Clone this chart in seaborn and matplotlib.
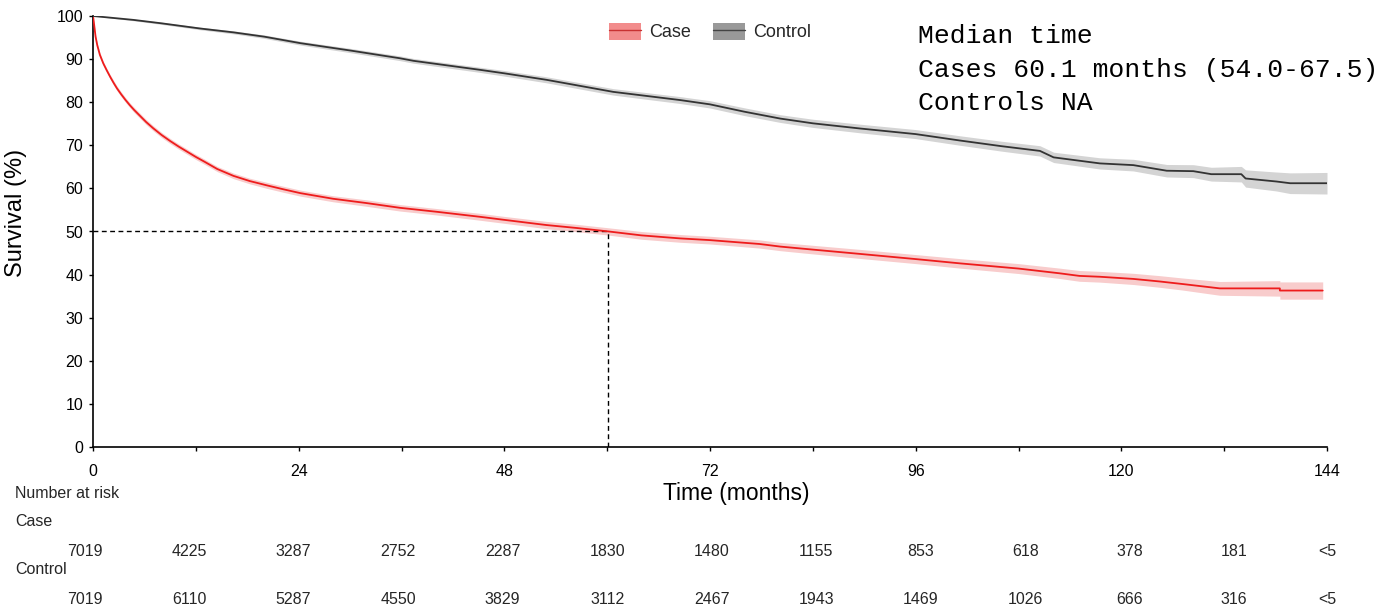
"""
Kaplan-Meier style survival curves for cases vs controls, with number at risk table.
"""

import matplotlib.pyplot as plt
import matplotlib.transforms as mtransforms
from matplotlib.patches import Patch
from matplotlib.lines import Line2D
import seaborn as sns
import pandas as pd
import numpy as np

# Case curve (months, survival %, half width of 95% CI)
case_time = [0, 0.1, 0.3, 0.5, 0.8, 1.2, 1.6, 2.0, 2.4, 2.8, 3.3, 3.8, 4.3, 4.8, 5.5,
             6.2, 7.0, 8.0, 9.0, 10.0, 11.0, 12.0, 13.0, 14.5, 16.4, 18.3, 20.3, 22.2, 24.2,
             28, 31.9, 35.8, 40, 45.2, 48, 52.9, 56.5, 60.2, 64, 68.5, 72, 77.8, 80.2,
             84, 89.5, 96, 101.2, 108, 112.8, 115.1, 117.5, 121.4, 124.5, 127.2, 131.5,
             138.5, 138.5, 143.5]
case_surv = [100, 98.5, 95.2, 93.2, 91.0, 89.0, 87.4, 85.9, 84.5, 83.2, 81.8, 80.5, 79.3, 78.2, 76.8,
             75.4, 74.0, 72.4, 71.0, 69.7, 68.5, 67.3, 66.2, 64.5, 62.9, 61.7, 60.7, 59.8, 58.9,
             57.6, 56.6, 55.5, 54.6, 53.4, 52.7, 51.5, 50.8, 50.0, 49.1, 48.4, 48.0, 47.1, 46.5,
             45.8, 44.8, 43.6, 42.6, 41.4, 40.3, 39.7, 39.5, 39.0, 38.4, 37.8, 36.8,
             36.8, 36.3, 36.3]
case_ci = [0, 0.3, 0.4, 0.45, 0.5, 0.5, 0.5, 0.5, 0.55, 0.55, 0.55, 0.55, 0.55, 0.6, 0.6,
           0.6, 0.6, 0.6, 0.6, 0.6, 0.6, 0.6, 0.6, 0.6, 0.65, 0.65, 0.7, 0.7, 0.7,
           0.7, 0.75, 0.75, 0.75, 0.8, 0.8, 0.85, 0.85, 0.85, 0.9, 0.9, 0.9, 0.95, 0.95,
           1.0, 1.05, 1.05, 1.1, 1.15, 1.2, 1.25, 1.25, 1.3, 1.35, 1.4, 1.6,
           1.8, 2.0, 2.0]

# Control curve
control_time = [0, 4.7, 8, 12.5, 16.4, 20, 24.2, 30, 35.8, 37.4, 45.2, 48, 52.9, 60.7,
                68.5, 72, 76, 80.2, 84, 89.5, 96, 101.2, 106, 110.5, 112.1, 117.5,
                121.4, 125.3, 128.4, 130.5, 134, 134.5, 138.1, 139.7, 144]
control_surv = [100, 99.1, 98.3, 97.1, 96.2, 95.2, 93.7, 92.0, 90.2, 89.6, 87.5, 86.7, 85.2, 82.4,
                80.5, 79.5, 77.8, 76.2, 75.1, 73.9, 72.6, 71.1, 69.8, 68.7, 67.2, 65.8,
                65.4, 64.1, 64.0, 63.3, 63.3, 62.3, 61.6, 61.2, 61.2]
control_ci = [0, 0.2, 0.25, 0.3, 0.35, 0.4, 0.45, 0.5, 0.55, 0.55, 0.6, 0.65, 0.7, 0.75,
              0.8, 0.85, 0.9, 0.9, 0.95, 1.0, 1.05, 1.1, 1.15, 1.2, 1.2, 1.3,
              1.35, 1.45, 1.5, 1.6, 1.8, 2.0, 2.2, 2.4, 2.5]

median_case = 60.1

# Number at risk table
risk_times = [0, 12, 24, 36, 48, 60, 72, 84, 96, 108, 120, 132, 144]
risk_case = ['7019', '4225', '3287', '2752', '2287', '1830', '1480', '1155', '853',
             '618', '378', '181', '<5']
risk_control = ['7019', '6110', '5287', '4550', '3829', '3112', '2467', '1943', '1469',
                '1026', '666', '316', '<5']

median_lines = ['Median time', 'Cases 60.1 months (54.0-67.5)', 'Controls NA']


def main():
    sns.set_theme(style='ticks')
    plt.rcParams['font.family'] = ['Liberation Sans', 'DejaVu Sans']

    W, H = 1397, 613
    fig = plt.figure(figsize=(W / 100, H / 100), dpi=100)
    ax = fig.add_axes([93 / W, 1 - 447 / H, 1234 / W, 431 / H])

    df = pd.concat([
        pd.DataFrame({'time': case_time, 'surv': case_surv, 'group': 'Case'}),
        pd.DataFrame({'time': control_time, 'surv': control_surv, 'group': 'Control'}),
    ], ignore_index=True)

    # confidence bands first so lines sit on top
    ax.fill_between(control_time, np.array(control_surv) - np.array(control_ci),
                    np.array(control_surv) + np.array(control_ci),
                    color='#d4d4d4', lw=0, zorder=1)
    ax.fill_between(case_time, np.array(case_surv) - np.array(case_ci),
                    np.array(case_surv) + np.array(case_ci),
                    color='#f8cccc', lw=0, zorder=1)

    sns.lineplot(data=df, x='time', y='surv', hue='group', sort=False, estimator=None,
                 palette={'Case': '#ee1c1c', 'Control': '#333333'},
                 linewidth=1.3, legend=False, ax=ax, zorder=3)

    # median marker for cases
    ax.plot([0, median_case], [50, 50], color='black', lw=1, dashes=(3.5, 2.5), zorder=2)
    ax.plot([median_case, median_case], [0, 50], color='black', lw=1, dashes=(3.5, 2.5), zorder=2)

    ax.set_xlim(0, 144)
    ax.set_ylim(0, 100)
    ax.set_xticks(risk_times[::2])
    ax.set_xticks(risk_times[1::2], minor=True)
    ax.set_yticks(range(0, 101, 10))
    ax.tick_params(axis='both', which='both', colors='black', labelsize=11.5, width=1)
    ax.tick_params(axis='x', which='major', length=3, pad=9)
    ax.tick_params(axis='x', which='minor', length=3)
    ax.tick_params(axis='y', length=3, pad=4)
    for side in ['top', 'right']:
        ax.spines[side].set_visible(False)
    for side in ['left', 'bottom']:
        ax.spines[side].set_color('black')
        ax.spines[side].set_linewidth(1.2)

    ax.set_xlabel('Time (months)', fontsize=16.5, color='black')
    ax.set_ylabel('Survival (%)', fontsize=17, color='black')
    ax.xaxis.set_label_coords((736 - 93) / 1234, (447 - 482) / 431)
    ax.yaxis.set_label_coords((27 - 93) / 1234, (447 - 213) / 431)

    # legend: shaded box with line through it
    handles = [
        (Patch(facecolor='#f28c8c', edgecolor='none'), Line2D([], [], color='#c83232', lw=1)),
        (Patch(facecolor='#999999', edgecolor='none'), Line2D([], [], color='#444444', lw=1)),
    ]
    fig.legend(handles, ['Case', 'Control'], loc='center left',
               bbox_to_anchor=(609 / W, 1 - 32 / H), ncol=2, frameon=False,
               fontsize=13, handlelength=1.75, handleheight=1.1, handletextpad=0.45,
               columnspacing=1.25, borderpad=0, borderaxespad=0)

    for i, line in enumerate(median_lines):
        fig.text(918 / W, 1 - (36 + i * 33.5) / H, line, family='Liberation Mono',
                 fontsize=19, va='center', ha='left', color='black')

    # number at risk table (columns run on a slightly wider grid than the axis)
    trans = mtransforms.blended_transform_factory(ax.transData, fig.transFigure)
    fig.text(15 / W, 1 - 493 / H, 'Number at risk', fontsize=11.5, va='center')
    fig.text(15 / W, 1 - 521 / H, 'Case', fontsize=11.5, va='center')
    fig.text(15 / W, 1 - 569 / H, 'Control', fontsize=11.5, va='center')
    for t, n_case, n_ctrl in zip(risk_times, risk_case, risk_control):
        xpos = min(t * 1.0165 - 1, 144)
        ax.text(xpos, 1 - 552 / H, n_case, transform=trans, fontsize=11.5,
                ha='center', va='center')
        ax.text(xpos, 1 - 600 / H, n_ctrl, transform=trans, fontsize=11.5,
                ha='center', va='center')

    plt.savefig('out.png', dpi=100)
    plt.close()


if __name__ == '__main__':
    main()
